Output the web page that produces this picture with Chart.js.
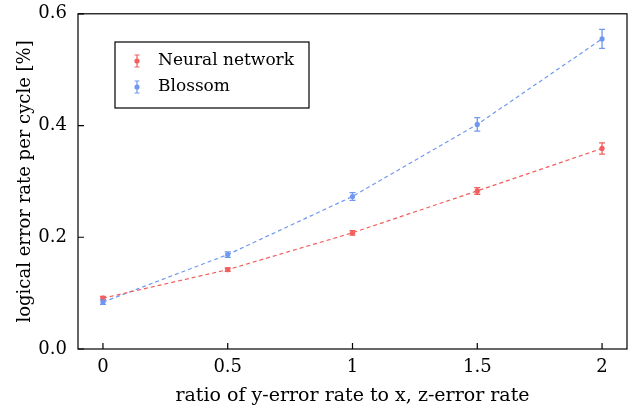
<!DOCTYPE html>
<html>
<head>
<meta charset="utf-8">
<script src="https://cdn.jsdelivr.net/npm/chart.js@4"></script>
<style>
  html, body { margin: 0; padding: 0; background: #fff; }
  #wrap { width: 635px; height: 407px; }
</style>
</head>
<body>
<div id="wrap"><canvas id="chart" width="635" height="407"></canvas></div>
<script>
const ratios = [0, 0.5, 1, 1.5, 2];
const neuralRate = [0.091, 0.142, 0.208, 0.283, 0.359];
const neuralErr = [0.003, 0.003, 0.004, 0.006, 0.010];
const blossomRate = [0.084, 0.169, 0.273, 0.402, 0.555];
const blossomErr = [0.004, 0.005, 0.007, 0.012, 0.017];
const xTicks = [0, 0.5, 1, 1.5, 2];
const yTicks = [0, 0.2, 0.4, 0.6];

const RED = "#f25f5c";
const BLUE = "#6f98f0";
const FONT = "'DejaVu Serif', serif";

const seriesErr = [neuralErr, blossomErr];

// error bars, inward ticks, frame and legend
const extras = {
    id: "extras",
    afterDatasetsDraw(chart) {
        const ctx = chart.ctx;
        const xs = chart.scales.x, ys = chart.scales.y;
        const area = chart.chartArea;
        ctx.save();
        chart.data.datasets.forEach((ds, i) => {
            ctx.strokeStyle = ds.borderColor;
            ctx.lineWidth = 1.3;
            ds.data.forEach((p, j) => {
                const px = xs.getPixelForValue(p.x);
                const top = ys.getPixelForValue(p.y + seriesErr[i][j]);
                const bot = ys.getPixelForValue(p.y - seriesErr[i][j]);
                ctx.beginPath();
                ctx.moveTo(px, top); ctx.lineTo(px, bot);
                ctx.moveTo(px - 3, top); ctx.lineTo(px + 3, top);
                ctx.moveTo(px - 3, bot); ctx.lineTo(px + 3, bot);
                ctx.stroke();
            });
        });

        // frame
        ctx.strokeStyle = "#000";
        ctx.lineWidth = 1.2;
        ctx.strokeRect(area.left, area.top, area.right - area.left, area.bottom - area.top);

        // inward ticks
        ctx.beginPath();
        xTicks.forEach(v => {
            const px = xs.getPixelForValue(v);
            ctx.moveTo(px, area.bottom); ctx.lineTo(px, area.bottom - 6);
        });
        yTicks.forEach(v => {
            const py = ys.getPixelForValue(v);
            ctx.moveTo(area.left, py); ctx.lineTo(area.left + 6, py);
        });
        ctx.stroke();

        // legend box
        const lx = 115, ly = 42, lw = 194, lh = 66;
        ctx.fillStyle = "#fff";
        ctx.fillRect(lx, ly, lw, lh);
        ctx.strokeStyle = "#000";
        ctx.lineWidth = 1.2;
        ctx.strokeRect(lx, ly, lw, lh);
        chart.data.datasets.forEach((ds, i) => {
            const cy = ly + 19 + i * 26;
            const cx = lx + 22;
            ctx.strokeStyle = ds.borderColor;
            ctx.fillStyle = ds.borderColor;
            ctx.lineWidth = 1.2;
            ctx.beginPath();
            ctx.moveTo(cx, cy - 6); ctx.lineTo(cx, cy + 6);
            ctx.moveTo(cx - 2.5, cy - 6); ctx.lineTo(cx + 2.5, cy - 6);
            ctx.moveTo(cx - 2.5, cy + 6); ctx.lineTo(cx + 2.5, cy + 6);
            ctx.stroke();
            ctx.beginPath();
            ctx.arc(cx, cy, 2.6, 0, Math.PI * 2);
            ctx.fill();
            ctx.fillStyle = "#000";
            ctx.font = "17px " + FONT;
            ctx.textBaseline = "middle";
            ctx.textAlign = "left";
            ctx.fillText(ds.label, lx + 43, cy);
        });
        ctx.restore();
    }
};

new Chart(document.getElementById("chart"), {
    type: "line",
    data: {
        datasets: [
            {
                label: "Neural network",
                data: ratios.map((x, i) => ({ x, y: neuralRate[i] })),
                borderColor: RED,
                backgroundColor: RED,
                borderWidth: 1.2,
                borderDash: [4, 3],
                pointRadius: 2.6,
                pointBorderWidth: 0,
                tension: 0
            },
            {
                label: "Blossom",
                data: ratios.map((x, i) => ({ x, y: blossomRate[i] })),
                borderColor: BLUE,
                backgroundColor: BLUE,
                borderWidth: 1.2,
                borderDash: [4, 3],
                pointRadius: 2.6,
                pointBorderWidth: 0,
                tension: 0
            }
        ]
    },
    options: {
        responsive: false,
        animation: false,
        layout: { padding: { left: 0, right: 8, top: 10, bottom: 0 } },
        plugins: {
            legend: { display: false },
            tooltip: { enabled: false }
        },
        scales: {
            x: {
                type: "linear",
                min: -0.1,
                max: 2.1,
                afterBuildTicks: (scale) => { scale.ticks = xTicks.map(v => ({ value: v })); },
                afterFit: (scale) => { scale.height = 58; },
                ticks: {
                    color: "#000",
                    padding: 0,
                    maxRotation: 0,
                    font: { family: FONT, size: 18 },
                    callback: (v) => String(v)
                },
                grid: { display: false },
                border: { display: false },
                title: {
                    display: true,
                    text: "ratio of y-error rate to x, z-error rate",
                    color: "#000",
                    font: { family: FONT, size: 19 },
                    padding: { top: 4, bottom: 0 }
                }
            },
            y: {
                min: 0,
                max: 0.6,
                afterBuildTicks: (scale) => { scale.ticks = yTicks.map(v => ({ value: v })); },
                afterFit: (scale) => { scale.width = 78; },
                ticks: {
                    color: "#000",
                    padding: 3,
                    font: { family: FONT, size: 18 },
                    callback: (v) => v.toFixed(1)
                },
                grid: { display: false },
                border: { display: false },
                title: {
                    display: true,
                    text: "logical error rate per cycle [%]",
                    color: "#000",
                    font: { family: FONT, size: 18 },
                    padding: { top: 15, bottom: 0 }
                }
            }
        }
    },
    plugins: [extras]
});
</script>
</body>
</html>
